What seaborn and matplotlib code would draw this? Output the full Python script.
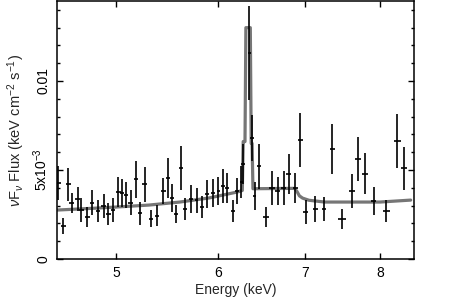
import matplotlib
matplotlib.use('Agg')
import matplotlib.pyplot as plt
import seaborn as sns
import pandas as pd
from matplotlib.ticker import FixedLocator, NullLocator, FixedFormatter

# data points (keV, flux, 1-sigma)
energy = [4.51, 4.55, 4.59, 4.62, 4.67, 4.70, 4.75, 4.79, 4.84, 4.89,
          4.93, 4.97, 5.02, 5.05, 5.09, 5.13, 5.18, 5.22, 5.26, 5.32,
          5.38, 5.44, 5.48, 5.52, 5.56, 5.61, 5.65, 5.71, 5.77, 5.83,
          5.88, 5.94, 6.00, 6.05, 6.09, 6.16, 6.20, 6.25, 6.27, 6.34,
          6.37, 6.40, 6.45, 6.53, 6.60, 6.67, 6.74, 6.80, 6.88, 6.94,
          7.01, 7.13, 7.24, 7.35, 7.48, 7.61, 7.69, 7.79, 7.91, 8.09,
          8.25, 8.35]
flux = [4.27, 1.85, 4.21, 3.15, 3.37, 2.75, 2.36, 3.15, 2.70, 2.98,
        2.53, 2.75, 3.76, 3.71, 3.60, 3.15, 4.49, 2.58, 4.21, 2.25,
        2.42, 3.82, 4.55, 3.43, 2.53, 5.11, 2.81, 3.37, 3.31, 2.92,
        3.65, 3.71, 3.82, 4.10, 3.99, 2.70, 3.82, 4.33, 5.34, 11.57,
        6.80, 3.54, 5.22, 2.36, 3.99, 3.82, 3.99, 4.78, 3.99, 6.69,
        2.64, 2.81, 2.81, 6.18, 2.25, 3.82, 5.62, 4.78, 3.26, 2.70,
        6.63, 5.11]
flux_err = [0.96, 0.45, 0.93, 0.56, 0.70, 0.67, 0.59, 0.70, 0.62, 0.65,
            0.62, 0.67, 0.84, 0.76, 0.73, 0.70, 1.04, 0.65, 0.98, 0.48,
            0.59, 0.73, 1.10, 0.79, 0.51, 1.24, 0.62, 0.79, 0.70, 0.62,
            0.79, 0.76, 0.81, 0.98, 0.84, 0.62, 0.73, 0.90, 1.10, 2.64,
            1.30, 0.79, 1.26, 0.56, 0.93, 0.81, 0.93, 1.12, 0.87, 1.52,
            0.65, 0.73, 0.70, 1.40, 0.56, 0.96, 1.26, 1.15, 0.79, 0.62,
            1.54, 1.21]
energy_err = [0.02, 0.02, 0.02, 0.02, 0.02, 0.02, 0.02, 0.02, 0.02, 0.02,
              0.02, 0.02, 0.02, 0.02, 0.02, 0.02, 0.02, 0.02, 0.02, 0.02,
              0.02, 0.02, 0.02, 0.02, 0.02, 0.02, 0.02, 0.02, 0.02, 0.02,
              0.02, 0.02, 0.02, 0.02, 0.02, 0.02, 0.02, 0.02, 0.02, 0.02,
              0.02, 0.02, 0.02, 0.03, 0.03, 0.03, 0.03, 0.03, 0.03, 0.03,
              0.03, 0.03, 0.03, 0.03, 0.05, 0.04, 0.04, 0.04, 0.04, 0.05,
              0.05, 0.05]

# folded model (step curve)
model_e = [4.50, 4.80, 5.00, 5.30, 5.60, 5.90, 6.20, 6.26, 6.27, 6.29,
           6.30, 6.35, 6.36, 6.37, 6.38, 6.40, 6.87, 6.90, 6.93, 6.97,
           7.05, 7.25, 8.00, 8.45]
model_f = [2.75, 2.85, 2.92, 3.03, 3.20, 3.43, 3.76, 3.85, 6.60, 6.60,
           13.0, 13.0, 6.50, 6.50, 3.95, 3.95, 3.97, 3.80, 3.55, 3.42,
           3.30, 3.20, 3.20, 3.31]

pts = pd.DataFrame({'E': energy, 'F': [v * 1e-3 for v in flux],
                    'dF': [v * 1e-3 for v in flux_err], 'dE': energy_err})
mod = pd.DataFrame({'E': model_e, 'F': [v * 1e-3 for v in model_f]})

sns.set_style('ticks')
plt.rcParams['font.family'] = ['Liberation Sans', 'DejaVu Sans']
plt.rcParams['mathtext.fontset'] = 'custom'
plt.rcParams['mathtext.rm'] = 'Liberation Sans'
plt.rcParams['mathtext.it'] = 'Liberation Sans:italic'

fig = plt.figure(figsize=(4.5, 3.0), dpi=100)
ax = fig.add_axes([0.1267, 0.1367, 0.7933, 0.86])

sns.lineplot(x='E', y='F', data=mod, ax=ax, sort=False, estimator=None,
             color='#767676', lw=2.3, zorder=2)
ax.errorbar(pts['E'], pts['F'], yerr=pts['dF'], xerr=pts['dE'], fmt='none',
            ecolor='black', elinewidth=1.2, capsize=0, zorder=3)

ax.set_xscale('log')
ax.set_xlim(4.5, 8.5)
ax.set_ylim(0, 0.0145)
ax.xaxis.set_major_locator(FixedLocator([5, 6, 7, 8]))
ax.xaxis.set_major_formatter(FixedFormatter(['5', '6', '7', '8']))
ax.xaxis.set_minor_locator(NullLocator())
ax.set_yticks([0, 0.005, 0.01])
ax.set_yticklabels(['0', r'5x10$^{-3}$', '0.01'], rotation=90, va='center')
ax.yaxis.set_minor_locator(FixedLocator([i * 0.001 for i in range(15)]))

ax.tick_params(which='both', direction='in', top=True, right=True,
               width=1.0, labelsize=10, color='black', labelcolor='black')
ax.tick_params(which='major', length=4.5, pad=5)
ax.tick_params(which='minor', length=2.3)
for s in ax.spines.values():
    s.set_linewidth(1.1)
    s.set_color('black')

ax.set_xlabel('Energy (keV)', fontsize=10, labelpad=2)
ax.set_ylabel(r'$\nu$F$_\nu$ Flux (keV cm$^{-2}$ s$^{-1}$)', fontsize=10.5,
              labelpad=3)

fig.savefig('out.png', dpi=100)
